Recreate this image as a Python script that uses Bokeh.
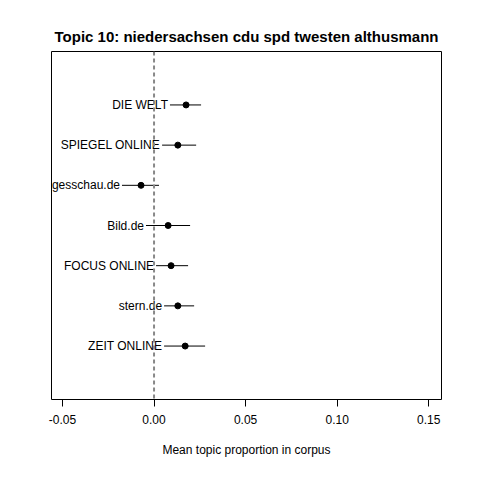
from bokeh.plotting import figure
from bokeh.embed import file_html
from bokeh.resources import INLINE
from bokeh.models import ColumnDataSource, Span, FixedTicker
from bokeh.core.properties import value

sources = ["DIE WELT", "SPIEGEL ONLINE", "tagesschau.de", "Bild.de", "FOCUS ONLINE", "stern.de", "ZEIT ONLINE"]
means = [0.0175, 0.013, -0.0071, 0.0077, 0.0093, 0.013, 0.017]
lower = [0.0087, 0.0044, -0.0175, -0.0044, 0.0011, 0.0055, 0.0055]
upper = [0.0257, 0.023, 0.0027, 0.0197, 0.0186, 0.0219, 0.0279]
ypos = [7, 6, 5, 4, 3, 2, 1]

src = ColumnDataSource(dict(name=sources, m=means, lo=lower, hi=upper, y=ypos))

p = figure(frame_width=390, frame_height=348, output_backend="svg", toolbar_location=None,
           x_range=(-0.056, 0.157), y_range=(1 - 1.33, 7 + 1.33),
           min_border_left=51, min_border_right=23, min_border_top=51, min_border_bottom=65,
           title="Topic 10: niedersachsen cdu spd twesten althusmann")
p.title.text_font = "Liberation Sans"
p.title.text_font_size = "15px"
p.title.align = "center"
p.title.text_color = "black"
p.title.standoff = 14
p.outline_line_color = "black"
p.outline_line_alpha = 1
p.grid.visible = False
p.yaxis.visible = False
p.xaxis.ticker = FixedTicker(ticks=[-0.05, 0, 0.05, 0.1, 0.15])
p.xaxis.major_label_overrides = {-0.05: "-0.05", 0: "0.00", 0.05: "0.05", 0.1: "0.10", 0.15: "0.15"}
p.xaxis.minor_tick_line_color = None
p.xaxis.major_tick_out = 7
p.xaxis.major_tick_in = 0
p.xaxis.axis_line_color = None
p.xaxis.major_label_standoff = 8
p.xaxis.major_label_text_font = "Liberation Sans"
p.xaxis.major_label_text_font_size = "12px"
p.xaxis.major_label_text_color = "black"
p.xaxis.axis_label = "Mean topic proportion in corpus"
p.xaxis.axis_label_text_font = "Liberation Sans"
p.xaxis.axis_label_text_font_size = "12px"
p.xaxis.axis_label_text_font_style = "normal"
p.xaxis.axis_label_text_color = "black"
p.xaxis.axis_label_standoff = 16

p.add_layout(Span(location=0, dimension="height", line_color="#888888", line_dash="4 3", line_width=2))
p.segment(x0="lo", x1="hi", y0="y", y1="y", source=src, line_color="black", line_width=1)
p.scatter(x="m", y="y", source=src, size=6, color="black")
p.text(x="lo", y="y", text="name", source=src, text_align="right", text_baseline="middle",
       x_offset=-2, text_font=value("Liberation Sans"), text_font_size="12px", text_color="black")

open("out.html", "w").write(file_html(p, INLINE))
